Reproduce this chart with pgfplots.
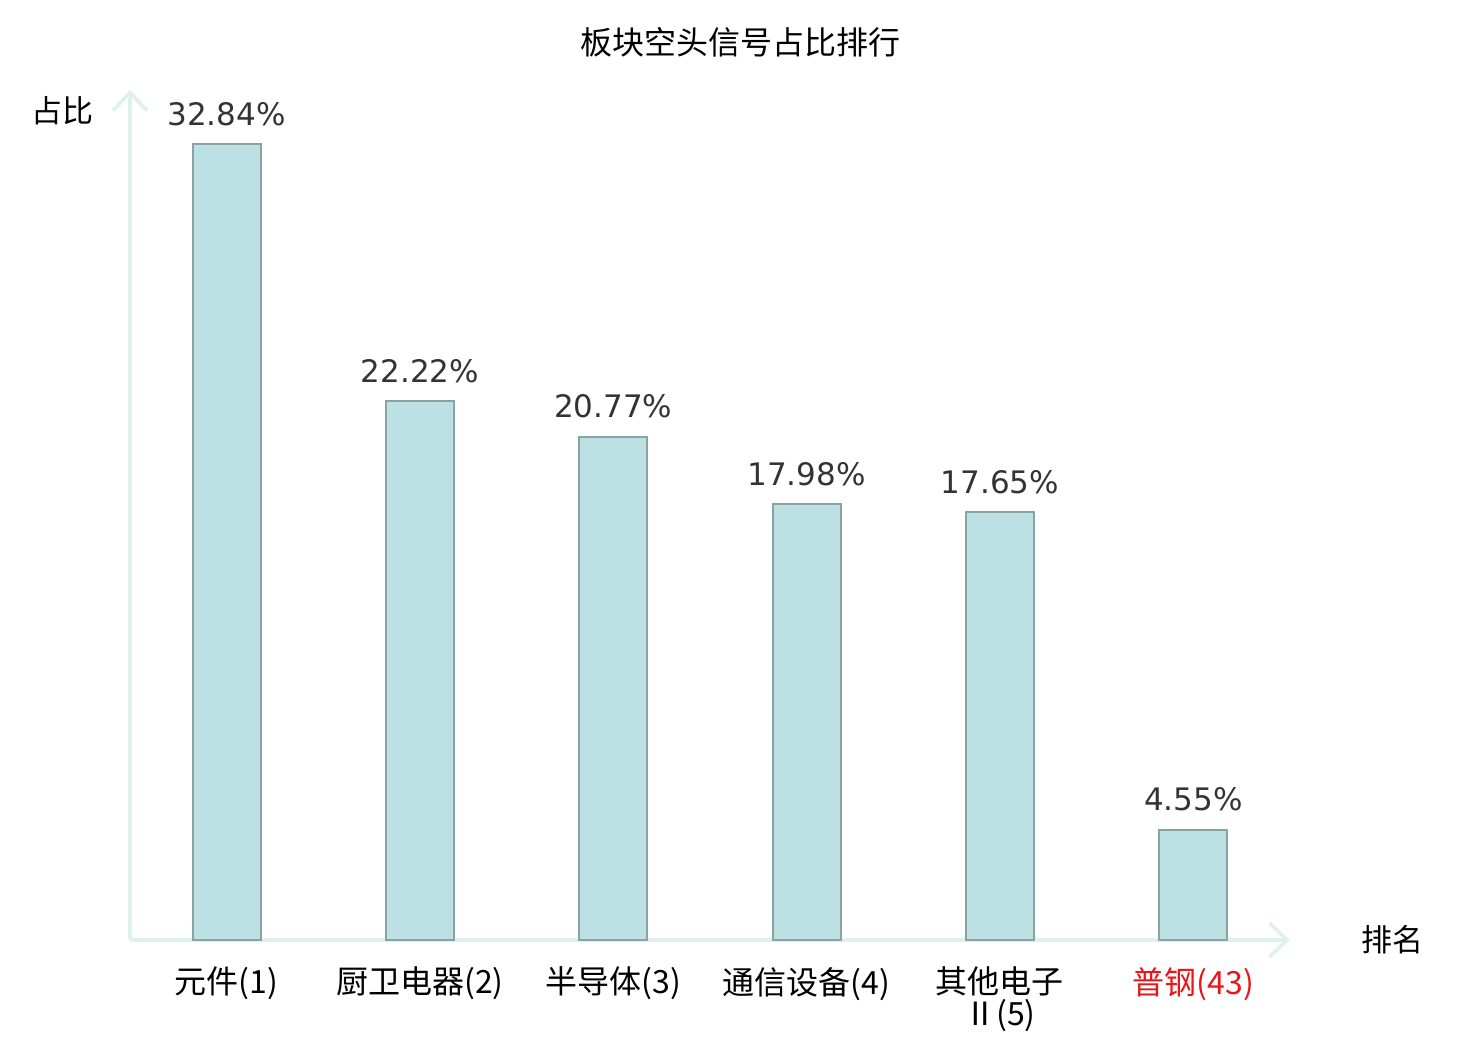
\documentclass[border=0pt]{standalone}
\usepackage{pgfplots}
\pgfplotsset{compat=1.18}
\usepackage{fontspec}
\setmainfont{Noto Sans CJK SC}
\newfontfamily\dejavu{DejaVu Sans}
\usetikzlibrary{arrows.meta}
\definecolor{barfill}{HTML}{BCE0E3}
\definecolor{baredge}{HTML}{88A3A4}
\definecolor{axiscol}{HTML}{DDF1EE}
\definecolor{valcol}{HTML}{333333}
\definecolor{tickred}{HTML}{E8161B}
\begin{document}
\begin{tikzpicture}
\useasboundingbox (-65pt,-50pt) rectangle (675pt,470pt);
\begin{axis}[
  scale only axis,
  width=580pt, height=425pt,
  xmin=-0.5, xmax=5.5, ymin=0, ymax=35.07,
  axis lines=left,
  axis line style={draw=axiscol, line width=1.8pt},
  x axis line style={-{Straight Barb[length=9pt,width=17pt,line width=1.8pt]}},
  y axis line style={-{Straight Barb[length=9pt,width=17pt,line width=1.8pt]}},
  ytick=\empty,
  xtick=data,
  major tick length=0pt,
  xticklabels={{元件(1)},{厨卫电器(2)},{半导体(3)},{通信设备(4)},{其他电子\\Ⅱ(5)},{\textcolor{tickred}{普钢(43)}}},
  xticklabel style={font=\fontsize{16pt}{16pt}\selectfont, align=center, anchor=north, yshift=-10pt, text=black},
  title={板块空头信号占比排行},
  title style={font=\fontsize{16pt}{19pt}\selectfont, at={(axis description cs:0.526,1.042)}, anchor=center},
  xlabel={排名},
  xlabel style={font=\fontsize{15.5pt}{18pt}\selectfont, at={(axis description cs:1.088,0)}, anchor=center},
  ylabel={占比},
  ylabel style={font=\fontsize{15.5pt}{18pt}\selectfont, at={(axis description cs:-0.058,0.976)}, anchor=center, rotate=-90},
  point meta=explicit symbolic,
  nodes near coords={\pgfplotspointmeta\%},
  every node near coord/.append style={font=\dejavu\fontsize{15.5pt}{18pt}\selectfont, text=valcol, anchor=base, yshift=9.5pt},
  clip=false,
]
\addplot[ybar, bar width=34pt, fill=barfill, draw=baredge, line width=1pt]
coordinates {(0,32.84)[32.84] (1,22.22)[22.22] (2,20.77)[20.77] (3,17.98)[17.98] (4,17.65)[17.65] (5,4.55)[4.55]};
\end{axis}
\end{tikzpicture}
\end{document}
